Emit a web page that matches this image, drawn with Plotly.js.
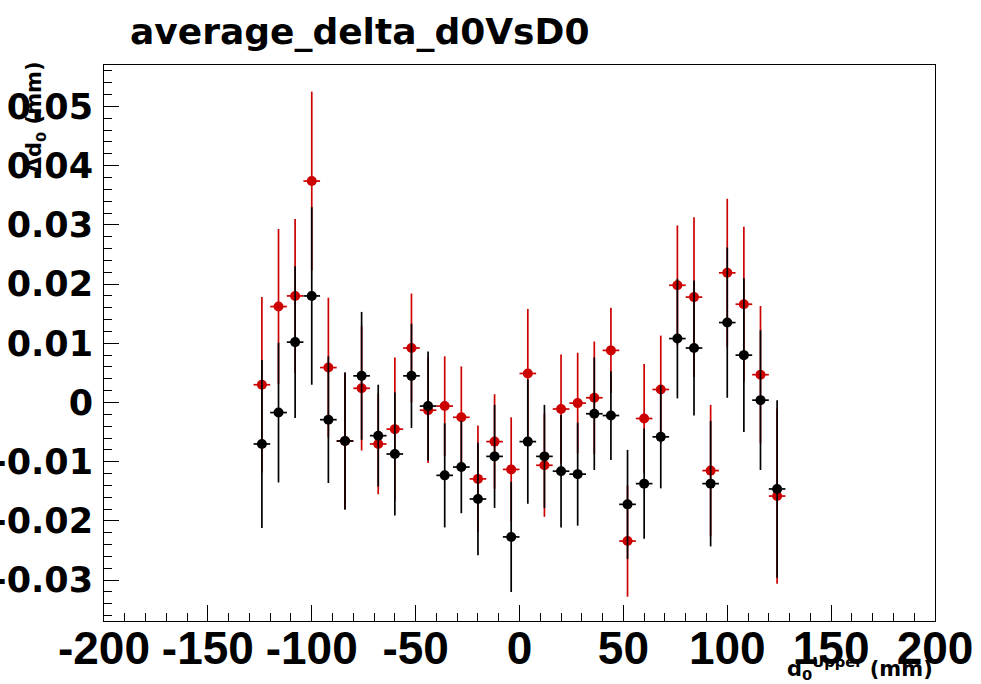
<!DOCTYPE html>
<html>
<head>
<meta charset="utf-8">
<script src="https://cdn.plot.ly/plotly-3.0.1.min.js"></script>
<style>
html, body { margin: 0; padding: 0; background: #ffffff; }
#chart { width: 981px; height: 684px; }
</style>
</head>
<body>
<div id="chart"></div>
<script>
// Bin centres of d0 Upper (mm)
const xVals = [-124, -116, -108, -100, -92, -84, -76, -68, -60, -52, -44, -36, -28, -20, -12, -4,
               4, 12, 20, 28, 36, 44, 52, 60, 68, 76, 84, 92, 100, 108, 116, 124];
const xHalfWidth = 4;

// Black series
const blackY = [-0.0070, -0.0017, 0.0102, 0.0180, -0.0029, -0.0065, 0.0045, -0.0056, -0.0087, 0.0045,
                -0.0006, -0.0123, -0.0109, -0.0163, -0.0091, -0.0227, -0.0066, -0.0091, -0.0116, -0.0121,
                -0.0019, -0.0022, -0.0172, -0.0137, -0.0058, 0.0108, 0.0092, -0.0137, 0.0135, 0.0080,
                0.0004, -0.0146];
const blackErr = [0.0142, 0.0118, 0.0128, 0.0150, 0.0107, 0.0116, 0.0108, 0.0086, 0.0104, 0.0088,
                  0.0092, 0.0088, 0.0078, 0.0095, 0.0087, 0.0093, 0.0105, 0.0087, 0.0095, 0.0087,
                  0.0095, 0.0075, 0.0092, 0.0093, 0.0087, 0.0101, 0.0114, 0.0106, 0.0127, 0.0130,
                  0.0118, 0.0150];

// Red series
const redY = [0.0030, 0.0162, 0.0180, 0.0374, 0.0059, -0.0065, 0.0024, -0.0070, -0.0045, 0.0092,
              -0.0013, -0.0006, -0.0025, -0.0129, -0.0066, -0.0113, 0.0049, -0.0106, -0.0011, -0.0001,
              0.0008, 0.0088, -0.0234, -0.0027, 0.0022, 0.0198, 0.0178, -0.0115, 0.0219, 0.0166,
              0.0047, -0.0158];
const redErr = [0.0148, 0.0131, 0.0130, 0.0151, 0.0118, 0.0114, 0.0105, 0.0085, 0.0121, 0.0092,
                0.0089, 0.0084, 0.0086, 0.0090, 0.0080, 0.0088, 0.0109, 0.0087, 0.0092, 0.0085,
                0.0095, 0.0072, 0.0094, 0.0092, 0.0091, 0.0101, 0.0135, 0.0111, 0.0125, 0.0131,
                0.0116, 0.0148];

// Tick labels
const xTickVals = [-200, -150, -100, -50, 0, 50, 100, 150, 200];
const xTickText = ['-200', '-150', '-100', '-50', '0', '50', '100', '150', '200'];
const yTickVals = [-0.03, -0.02, -0.01, 0, 0.01, 0.02, 0.03, 0.04, 0.05];
const yTickText = ['-0.03', '-0.02', '-0.01', '0', '0.01', '0.02', '0.03', '0.04', '0.05'];

const titleText = 'average_delta_d0VsD0';
const yTitleText = '\u0394d<sub>0</sub> (mm)';
const xTitleText = 'd<sub>0</sub><sup>Upper</sup> (mm)';

const RED = '#cc0000';
const BLACK = '#000000';

function makeTrace(y, err, color, name) {
  return {
    type: 'scatter',
    mode: 'markers',
    name: name,
    x: xVals,
    y: y,
    marker: { color: color, size: 10, symbol: 'circle' },
    error_y: { type: 'data', array: err, visible: true, color: color, thickness: 1.7, width: 0 },
    error_x: { type: 'constant', value: xHalfWidth, visible: true, color: color, thickness: 1.7, width: 0 },
    showlegend: false,
    hoverinfo: 'x+y'
  };
}

const data = [
  makeTrace(redY, redErr, RED, 'red'),
  makeTrace(blackY, blackErr, BLACK, 'black')
];

const layout = {
  width: 981,
  height: 684,
  paper_bgcolor: '#ffffff',
  plot_bgcolor: '#ffffff',
  margin: { l: 104, r: 46, t: 65, b: 63, pad: 0 },
  showlegend: false,
  title: {
    text: titleText,
    font: { family: 'DejaVu Sans', size: 36, weight: 'bold', color: '#000000' },
    xref: 'container', yref: 'container',
    x: 130 / 981, xanchor: 'left',
    y: 0.954, yanchor: 'middle'
  },
  xaxis: {
    range: [-200, 200],
    showgrid: false, zeroline: false,
    showline: true, mirror: true, linecolor: '#000000', linewidth: 1,
    ticks: 'inside', ticklen: 16, tickwidth: 1, tickcolor: '#000000',
    tickmode: 'array', tickvals: xTickVals, ticktext: xTickText,
    tickfont: { family: 'Liberation Sans', size: 46, weight: 'bold', color: '#000000' },
    ticklabelstandoff: -13,
    minor: { dtick: 10, tick0: 0, ticks: 'inside', ticklen: 8, tickwidth: 1, tickcolor: '#000000', showgrid: false }
  },
  yaxis: {
    range: [-0.0369, 0.0570],
    showgrid: false, zeroline: false,
    showline: true, mirror: true, linecolor: '#000000', linewidth: 1,
    ticks: 'inside', ticklen: 15, tickwidth: 1, tickcolor: '#000000',
    tickmode: 'array', tickvals: yTickVals, ticktext: yTickText,
    tickfont: { family: 'DejaVu Sans', size: 35, weight: 'bold', color: '#000000' },
    ticklabelstandoff: 3,
    minor: { dtick: 0.002, tick0: 0, ticks: 'inside', ticklen: 8, tickwidth: 1, tickcolor: '#000000', showgrid: false }
  },
  annotations: [
    {
      text: yTitleText, textangle: -90, showarrow: false,
      xref: 'paper', yref: 'paper', x: -0.082, y: 1.01, xanchor: 'center', yanchor: 'top',
      font: { family: 'DejaVu Sans', size: 21, weight: 'bold', color: '#000000' }
    },
    {
      text: xTitleText, showarrow: false,
      xref: 'paper', yref: 'paper', x: 1.0, y: -0.085, xanchor: 'right', yanchor: 'middle',
      font: { family: 'DejaVu Sans', size: 21, weight: 'bold', color: '#000000' }
    }
  ]
};

Plotly.newPlot('chart', data, layout, { displayModeBar: false, staticPlot: true });
</script>
</body>
</html>
